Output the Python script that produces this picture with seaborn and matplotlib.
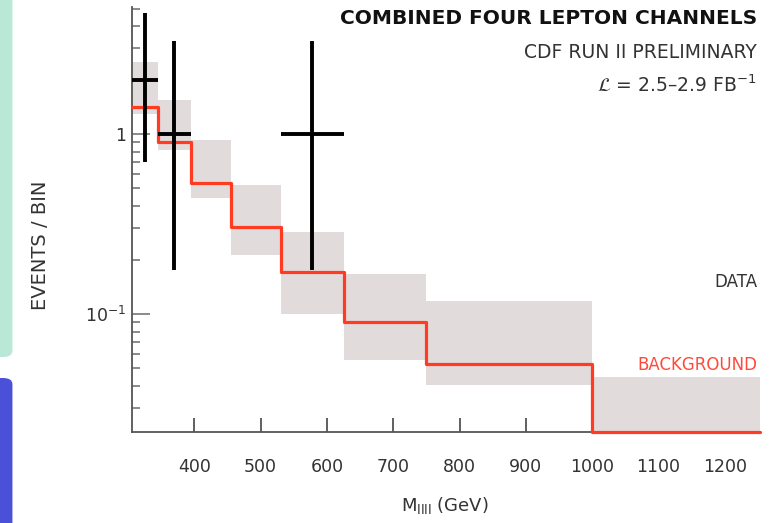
import numpy as np
import pandas as pd
import matplotlib
matplotlib.use("Agg")
import matplotlib.pyplot as plt
from matplotlib.patches import FancyBboxPatch
from matplotlib.ticker import FixedLocator, NullFormatter, FixedFormatter
import seaborn as sns

# ---- data ----
bin_edges = [306, 345, 395, 455, 530, 625, 750, 1000, 1253]
bkg_values = [1.41, 0.90, 0.535, 0.305, 0.171, 0.0906, 0.0525, 0.0221]
bkg_band_low = [1.30, 0.815, 0.441, 0.213, 0.1006, 0.0555, 0.0403, 0.02]
bkg_band_high = [2.51, 1.56, 0.926, 0.521, 0.286, 0.167, 0.118, 0.0447]

data_x = [325.5, 370, 577.5]
data_xerr_lo = [19.5, 25, 47.5]
data_xerr_hi = [19.5, 25, 47.5]
data_y = [2.0, 1.0, 1.0]
data_y_lo = [0.70, 0.175, 0.175]
data_y_hi = [4.7, 3.29, 3.29]

x_ticks = [400, 500, 600, 700, 800, 900, 1000, 1100, 1200]

sns.set_style("ticks")
plt.rcParams['font.family'] = ['DejaVu Sans']
plt.rcParams['mathtext.default'] = 'regular'

TXT = '#333333'
RED = '#ff3b22'
BAND = '#e2dbdc'

fig = plt.figure(figsize=(7.77, 5.23), dpi=100)
ax = fig.add_axes([132/777, 1-432/523, (760-132)/777, (432-7)/523])

# slide decorations on the left edge
fig.patches.append(FancyBboxPatch((-0.02, 1-357/523), 0.036, 357/523+0.05,
                                  boxstyle="round,pad=0,rounding_size=0.012",
                                  transform=fig.transFigure, facecolor='#b9e8d6',
                                  edgecolor='none', zorder=0))
fig.patches.append(FancyBboxPatch((-0.02, -0.05), 0.036, (523-378)/523+0.05,
                                  boxstyle="round,pad=0,rounding_size=0.012",
                                  transform=fig.transFigure, facecolor='#4b50d8',
                                  edgecolor='none', zorder=0))

# background uncertainty band
ax.fill_between(bin_edges, bkg_band_low + [bkg_band_low[-1]],
                bkg_band_high + [bkg_band_high[-1]], step='post',
                color=BAND, linewidth=0, zorder=1)

# background step line
df_bkg = pd.DataFrame({'m': bin_edges, 'events': bkg_values + [bkg_values[-1]]})
sns.lineplot(data=df_bkg, x='m', y='events', ax=ax, color=RED, linewidth=2.3,
             drawstyle='steps-post', estimator=None, zorder=3, clip_on=False)

# data points
yerr = np.array([np.array(data_y) - np.array(data_y_lo),
                 np.array(data_y_hi) - np.array(data_y)])
xerr = np.array([data_xerr_lo, data_xerr_hi])
ax.errorbar(data_x, data_y, xerr=xerr, yerr=yerr, fmt='none', ecolor='black',
            elinewidth=2.8, capsize=0, zorder=4)

ax.set_yscale('log')
ax.set_xlim(bin_edges[0], bin_edges[-1])
ax.set_ylim(0.0221, 5.1)

ax.set_xticks(x_ticks)
ax.set_xticklabels([str(t) for t in x_ticks])
ax.yaxis.set_major_locator(FixedLocator([0.1, 1]))
ax.yaxis.set_major_formatter(FixedFormatter(['$10^{-1}$', '1']))
minors = [k * 10.0**e for e in (-2, -1, 0) for k in range(2, 10)]
ax.yaxis.set_minor_locator(FixedLocator(minors))
ax.yaxis.set_minor_formatter(NullFormatter())

for s in ['top', 'right']:
    ax.spines[s].set_visible(False)
for s in ['left', 'bottom']:
    ax.spines[s].set_color('#555555')
    ax.spines[s].set_linewidth(1.3)

ax.tick_params(axis='x', which='major', direction='in', length=10, width=1.2,
               color='#444444', labelsize=12.5, labelcolor=TXT, pad=19)
ax.tick_params(axis='y', which='major', direction='in', length=13, width=1.2,
               color='#777777', labelsize=12.5, labelcolor=TXT, pad=4)
ax.tick_params(axis='y', which='minor', direction='in', length=6, width=1.2,
               color='#777777')
ax.set_xlabel('')
ax.set_ylabel('')

fig.text(40/777, 1-245/523, 'EVENTS / BIN', rotation=90, ha='center', va='center',
         fontsize=14, color=TXT)
fig.text(445/777, 1-506/523, '$M_{llll}$ (GeV)', ha='center', va='center',
         fontsize=13, color=TXT)

fig.text(757/777, 1-18/523, 'COMBINED FOUR LEPTON CHANNELS', ha='right',
         va='center', fontsize=14.5, fontweight='bold', color='#111111')
fig.text(757/777, 1-52/523, 'CDF RUN II PRELIMINARY', ha='right', va='center',
         fontsize=13.5, color=TXT)
fig.text(757/777, 1-85/523, r'$\mathcal{L}$ = 2.5–2.9 FB$^{-1}$', ha='right',
         va='center', fontsize=13.5, color=TXT)
fig.text(757/777, 1-282/523, 'DATA', ha='right', va='center', fontsize=12,
         color=TXT)
fig.text(757/777, 1-365/523, 'BACKGROUND', ha='right', va='center', fontsize=12,
         color='#ff4a3a')

fig.savefig('out.png', dpi=100)
